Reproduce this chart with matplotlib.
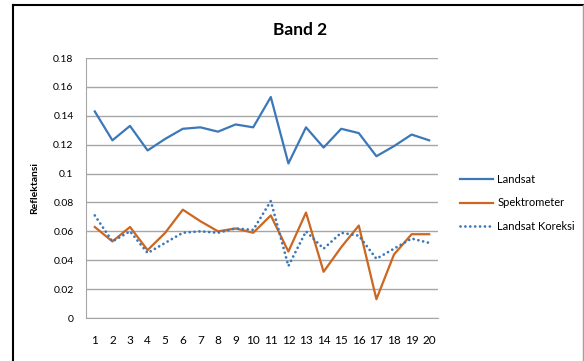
import matplotlib
matplotlib.use("Agg")
import matplotlib.pyplot as plt
from matplotlib.lines import Line2D

plt.rcParams['font.family'] = ['Lato', 'DejaVu Sans']

titik = list(range(1, 21))

landsat = [0.143, 0.123, 0.133, 0.116, 0.124, 0.131, 0.132, 0.129, 0.134, 0.132,
           0.153, 0.107, 0.132, 0.118, 0.131, 0.128, 0.112, 0.119, 0.127, 0.123]

spektrometer = [0.063, 0.053, 0.063, 0.047, 0.059, 0.075, 0.067, 0.060, 0.062, 0.059,
                0.071, 0.046, 0.073, 0.032, 0.049, 0.064, 0.013, 0.044, 0.058, 0.058]

landsat_koreksi = [0.071, 0.053, 0.060, 0.045, 0.052, 0.059, 0.060, 0.059, 0.062, 0.061,
                   0.081, 0.036, 0.060, 0.048, 0.059, 0.057, 0.041, 0.048, 0.055, 0.052]

yticks = [0, 0.02, 0.04, 0.06, 0.08, 0.1, 0.12, 0.14, 0.16, 0.18]
ylabels = ['0', '0.02', '0.04', '0.06', '0.08', '0.1', '0.12', '0.14', '0.16', '0.18']

biru = '#3C78B9'
oranye = '#CC6620'

fig = plt.figure(figsize=(5.84, 3.61), dpi=100)
ax = fig.add_axes([86 / 584, 43 / 361, 352 / 584, 260 / 361])

x = range(len(titik))
ax.plot(x, landsat, color=biru, lw=1.6, label='Landsat')
ax.plot(x, spektrometer, color=oranye, lw=1.6, label='Spektrometer')
ax.plot(x, landsat_koreksi, color=biru, lw=2.0, linestyle=(0, (0.01, 1.75)),
        dash_capstyle='round', label='Landsat Koreksi')

ax.set_xlim(-0.5, len(titik) - 0.5)
ax.set_ylim(0, 0.18)
ax.set_xticks(list(x))
ax.set_xticklabels([str(t) for t in titik], fontsize=8.5)
ax.set_yticks(yticks)
ax.set_yticklabels(ylabels, fontsize=7.5)
ax.tick_params(length=0, pad=9)
ax.tick_params(axis='x', pad=12)
ax.grid(axis='y', color='#A6A6A6', lw=1)
ax.set_axisbelow(True)
for s in ['top', 'right']:
    ax.spines[s].set_visible(False)
for s in ['left', 'bottom']:
    ax.spines[s].set_color('#A6A6A6')

ax.set_ylabel('Reflektansi', fontsize=7.5, fontweight='bold', labelpad=10)
fig.text(300 / 584, 1 - 30 / 361, 'Band 2', fontsize=12.5, fontweight='bold',
         ha='center', va='center')

ax.legend(loc='center left', bbox_to_anchor=(450 / 584, 1 - 203 / 361),
          bbox_transform=fig.transFigure, frameon=False, fontsize=8,
          handlelength=3.0, handletextpad=0.35, labelspacing=1.1)

# bingkai chart
fig.add_artist(Line2D([13 / 584, 13 / 584], [0, 1 - 5 / 361], color='black', lw=1.5,
                      transform=fig.transFigure))
fig.add_artist(Line2D([13 / 584, 583 / 584], [1 - 5 / 361, 1 - 5 / 361], color='black',
                      lw=1.5, transform=fig.transFigure))
fig.add_artist(Line2D([583 / 584, 583 / 584], [0, 1 - 5 / 361], color='#A0A0A0', lw=1,
                      transform=fig.transFigure))

fig.savefig('out.png', dpi=100)
